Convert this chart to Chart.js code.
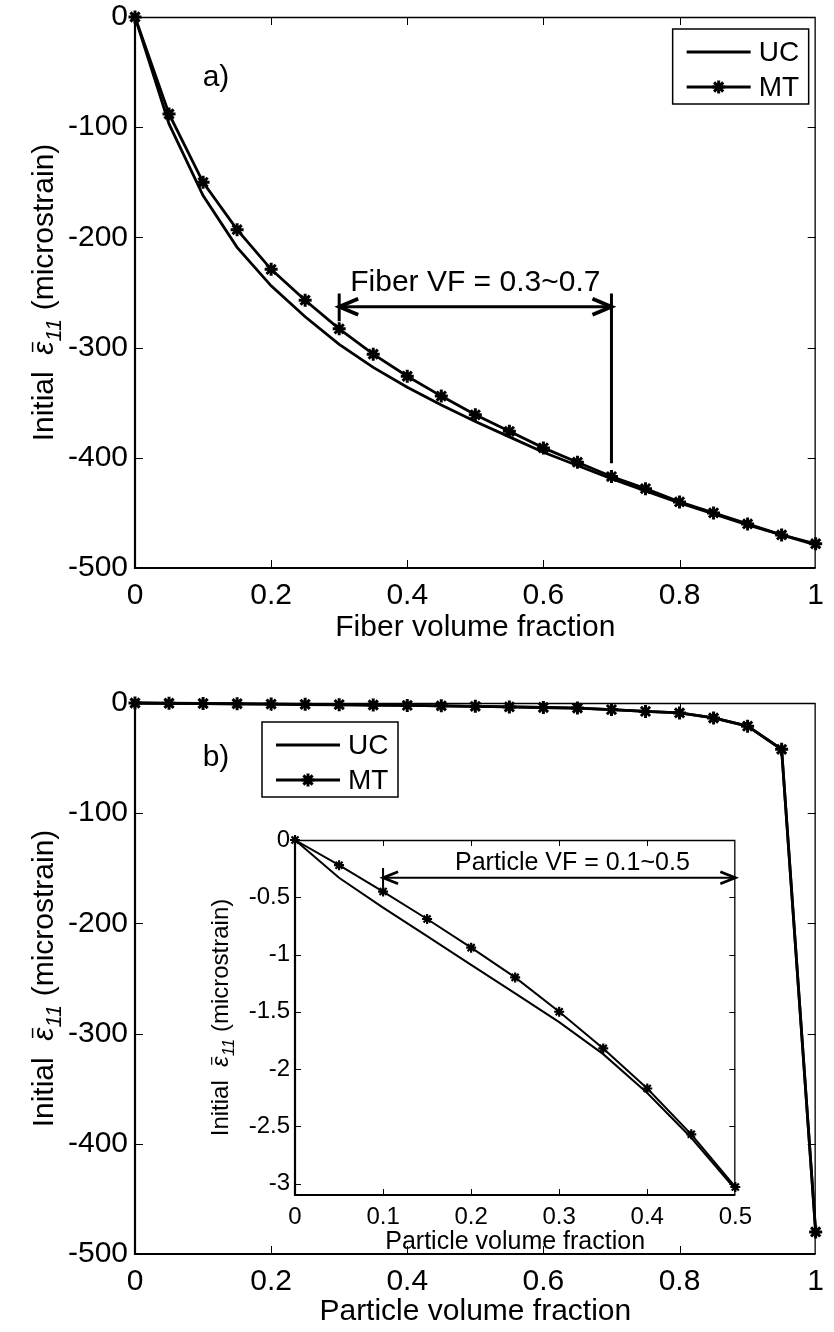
<!DOCTYPE html>
<html>
<head>
<meta charset="utf-8">
<script src="https://cdn.jsdelivr.net/npm/chart.js@4.4.0/dist/chart.umd.min.js"></script>
<style>
  html, body { margin: 0; padding: 0; background: #fff; }
  body { width: 834px; height: 1332px; position: relative; overflow: hidden; }
  .panel { position: absolute; }
</style>
</head>
<body>
<div class="panel" style="left:0;top:-20px;width:834px;height:680px"><canvas id="chartFiber"></canvas></div>
<div class="panel" style="left:0;top:660px;width:834px;height:672px"><canvas id="chartParticle"></canvas></div>
<div class="panel" style="left:180px;top:810px;width:580px;height:460px"><canvas id="chartInset"></canvas></div>
<script>
// values
var volumeFraction = [0, 0.05, 0.1, 0.15, 0.2, 0.25, 0.3, 0.35, 0.4, 0.45, 0.5,
                      0.55, 0.6, 0.65, 0.7, 0.75, 0.8, 0.85, 0.9, 0.95, 1];
var fiberUC = [0, -97, -162, -209, -244, -272, -297, -318, -336, -352, -367,
               -381, -395, -407, -419, -430, -441, -451, -461, -470, -479];
var fiberMT = [0, -88, -150, -193, -229, -257, -283, -306, -326, -344, -361,
               -376, -391, -404, -417, -428, -440, -450, -460, -470, -478];
var particleUC = [0, -0.33, -0.59, -0.84, -1.09, -1.34, -1.59, -1.87, -2.21, -2.6, -3.05,
                  -3.6, -4.1, -4.6, -6, -7.6, -9, -13.6, -21, -42, -480];
var particleMT = [0, -0.22, -0.45, -0.69, -0.94, -1.2, -1.5, -1.82, -2.17, -2.57, -3.03,
                  -3.6, -4.1, -4.6, -6, -7.6, -9, -13.6, -21, -42, -480];
var insetCount = 11; // inset shows volume fraction 0 .. 0.5

var seriesLabels = ['UC', 'MT'];
var mainXTicks = [0, 0.2, 0.4, 0.6, 0.8, 1];
var mainYTicks = [0, -100, -200, -300, -400, -500];
var insetXTicks = [0, 0.1, 0.2, 0.3, 0.4, 0.5];
var insetYTicks = [0, -0.5, -1, -1.5, -2, -2.5, -3];
var fiberRange = [0.3, 0.7];
var particleRange = [0.1, 0.5];

var FONT = '"Liberation Sans", Arial, Helvetica, sans-serif';

function toPoints(xs, ys) {
    return xs.map(function (x, i) { return { x: x, y: ys[i] }; });
}

function tickSetter(values) {
    return function (scale) {
        scale.ticks = values.map(function (v) { return { value: v }; });
    };
}

function makeDatasets(xs, uc, mt, lw, markR, markW) {
    return [
        {
            label: seriesLabels[0], data: toPoints(xs, uc),
            borderColor: '#000', borderWidth: lw, pointRadius: 0, fill: false, tension: 0, clip: false
        },
        {
            label: seriesLabels[1], data: toPoints(xs, mt),
            borderColor: '#000', borderWidth: lw, fill: false, tension: 0, clip: false,
            pointStyle: 'star', pointRadius: markR, pointBorderWidth: markW,
            pointBorderColor: '#000', pointBackgroundColor: '#000'
        }
    ];
}

function drawBox(chart, tickLen) {
    var a = chart.chartArea, ctx = chart.ctx;
    var xs = chart.scales.x, ys = chart.scales.y;
    ctx.save();
    ctx.strokeStyle = '#000';
    ctx.lineWidth = 1;
    ctx.beginPath();
    xs.ticks.forEach(function (t) {
        var px = Math.round(xs.getPixelForValue(t.value)) + 0.5;
        if (px - a.left < 3 || a.right - px < 3) return;
        ctx.moveTo(px, a.bottom); ctx.lineTo(px, a.bottom - tickLen);
        ctx.moveTo(px, a.top); ctx.lineTo(px, a.top + tickLen);
    });
    ys.ticks.forEach(function (t) {
        var py = Math.round(ys.getPixelForValue(t.value)) + 0.5;
        if (py - a.top < 3 || a.bottom - py < 3) return;
        ctx.moveTo(a.left, py); ctx.lineTo(a.left + tickLen, py);
        ctx.moveTo(a.right, py); ctx.lineTo(a.right - tickLen, py);
    });
    ctx.stroke();
    ctx.lineWidth = 1.3;
    ctx.beginPath();
    ctx.moveTo(a.left, a.top + 0.5); ctx.lineTo(a.right - 0.5, a.top + 0.5); ctx.lineTo(a.right - 0.5, a.bottom);
    ctx.stroke();
    ctx.lineWidth = 2.2;
    ctx.beginPath();
    ctx.moveTo(a.left, a.top); ctx.lineTo(a.left, a.bottom); ctx.lineTo(a.right, a.bottom);
    ctx.stroke();
    ctx.restore();
}

function drawYTitle(chart, baseX, size) {
    var ctx = chart.ctx, a = chart.chartArea;
    var parts = [
        { t: 'Initial  ', f: size + 'px ' + FONT, dy: 0 },
        { t: '\u03B5', f: 'italic ' + size + 'px ' + FONT, dy: 0, bar: true },
        { t: '11', f: 'italic ' + Math.round(size * 0.72) + 'px ' + FONT, dy: size * 0.27 },
        { t: ' (microstrain)', f: size + 'px ' + FONT, dy: 0 }
    ];
    ctx.save();
    var total = 0;
    parts.forEach(function (p) { ctx.font = p.f; p.w = ctx.measureText(p.t).width; total += p.w; });
    ctx.translate(baseX, (a.top + a.bottom) / 2);
    ctx.rotate(-Math.PI / 2);
    ctx.fillStyle = '#000';
    ctx.strokeStyle = '#000';
    ctx.textBaseline = 'alphabetic';
    ctx.textAlign = 'left';
    var x = -total / 2;
    parts.forEach(function (p) {
        ctx.font = p.f;
        ctx.fillText(p.t, x, p.dy);
        if (p.bar) {
            ctx.lineWidth = Math.max(1, size / 20);
            ctx.beginPath();
            ctx.moveTo(x + p.w * 0.2, -size * 0.68);
            ctx.lineTo(x + p.w * 0.95, -size * 0.68);
            ctx.stroke();
        }
        x += p.w;
    });
    ctx.restore();
}

function drawLegend(chart, left, top, o) {
    var ctx = chart.ctx;
    ctx.save();
    ctx.fillStyle = '#fff';
    ctx.fillRect(left, top, o.w, o.h);
    ctx.strokeStyle = '#000';
    ctx.lineWidth = 1.5;
    ctx.strokeRect(left, top, o.w, o.h);
    chart.data.datasets.forEach(function (ds, i) {
        var y = top + o.row0 + i * o.rowGap;
        ctx.strokeStyle = '#000';
        ctx.lineWidth = ds.borderWidth;
        ctx.beginPath();
        ctx.moveTo(left + 14, y); ctx.lineTo(left + 78, y);
        ctx.stroke();
        if (ds.pointRadius > 0) {
            ctx.lineWidth = ds.pointBorderWidth;
            ctx.fillStyle = '#000';
            Chart.helpers.drawPoint(ctx, { pointStyle: ds.pointStyle, radius: ds.pointRadius, borderWidth: ds.pointBorderWidth, rotation: 0 }, left + 46, y);
        }
        ctx.fillStyle = '#000';
        ctx.font = o.size + 'px ' + FONT;
        ctx.textBaseline = 'middle';
        ctx.textAlign = 'left';
        ctx.fillText(ds.label, left + 86, y + 1);
    });
    ctx.restore();
}

function arrowHead(ctx, x, y, dir, len, half) {
    ctx.beginPath();
    ctx.moveTo(x - dir * len, y - half);
    ctx.lineTo(x, y);
    ctx.lineTo(x - dir * len, y + half);
    ctx.stroke();
}

function drawRange(chart, range, o) {
    var ctx = chart.ctx, xs = chart.scales.x, ys = chart.scales.y;
    var x0 = xs.getPixelForValue(range[0]), x1 = xs.getPixelForValue(range[1]);
    var y = ys.getPixelForValue(o.arrowY);
    ctx.save();
    ctx.strokeStyle = '#000';
    ctx.lineWidth = o.lw;
    ctx.beginPath();
    ctx.moveTo(x0, y); ctx.lineTo(x1, y);
    ctx.moveTo(x0, ys.getPixelForValue(o.barTop)); ctx.lineTo(x0, ys.getPixelForValue(o.leftBottom));
    if (o.rightBottom !== null) {
        ctx.moveTo(x1, ys.getPixelForValue(o.barTop)); ctx.lineTo(x1, ys.getPixelForValue(o.rightBottom));
    }
    ctx.stroke();
    ctx.lineWidth = o.lw + 0.8;
    arrowHead(ctx, x0, y, -1, o.headLen, o.headHalf);
    arrowHead(ctx, x1, y, 1, o.headLen, o.headHalf);
    ctx.fillStyle = '#000';
    ctx.font = o.size + 'px ' + FONT;
    ctx.textAlign = 'center';
    ctx.textBaseline = 'middle';
    ctx.fillText(o.text, xs.getPixelForValue(o.textX), ys.getPixelForValue(o.textY));
    ctx.restore();
}

function drawLetter(chart, text, dx, dy) {
    var ctx = chart.ctx, a = chart.chartArea;
    ctx.save();
    ctx.fillStyle = '#000';
    ctx.font = '30px ' + FONT;
    ctx.textAlign = 'center';
    ctx.textBaseline = 'middle';
    ctx.fillText(text, a.left + dx, a.top + dy);
    ctx.restore();
}

function mainScales(xTitle, xHeight, titlePad) {
    return {
        x: {
            type: 'linear', min: 0, max: 1,
            afterBuildTicks: tickSetter(mainXTicks),
            afterFit: function (s) { s.height = xHeight; },
            grid: { display: false, drawTicks: false },
            border: { display: false },
            ticks: {
                color: '#000', font: { family: FONT, size: 30 }, padding: 10,
                maxRotation: 0, autoSkip: false,
                callback: function (v) { return String(v); }
            },
            title: {
                display: true, text: xTitle, color: '#000',
                font: { family: FONT, size: 30 }, padding: { top: 0, bottom: titlePad }
            }
        },
        y: {
            type: 'linear', min: -500, max: 0,
            afterBuildTicks: tickSetter(mainYTicks),
            afterFit: function (s) { s.width = 135; },
            grid: { display: false, drawTicks: false },
            border: { display: false },
            ticks: {
                color: '#000', font: { family: FONT, size: 30 }, padding: 7,
                autoSkip: false,
                callback: function (v) { return String(v); }
            }
        }
    };
}

var common = {
    responsive: true,
    maintainAspectRatio: false,
    animation: false,
    events: [],
    plugins: { legend: { display: false }, tooltip: { enabled: false } }
};

new Chart(document.getElementById('chartFiber'), {
    type: 'line',
    data: { datasets: makeDatasets(volumeFraction, fiberUC, fiberMT, 2.8, 6.5, 3) },
    options: Object.assign({}, common, {
        layout: { padding: { top: 37, right: 9, left: 0, bottom: 0 } },
        scales: mainScales('Fiber volume fraction', 92, 14)
    }),
    plugins: [{
        id: 'fiberDecor',
        beforeDatasetsDraw: function (chart) { drawBox(chart, 8); },
        afterDatasetsDraw: function (chart) {
            var a = chart.chartArea;
            drawYTitle(chart, 53, 30);
            drawLegend(chart, a.right - 7 - 136, a.top + 12, { w: 136, h: 75, row0: 23, rowGap: 35, size: 28 });
            drawLetter(chart, 'a)', 81, 61);
            drawRange(chart, fiberRange, {
                arrowY: -263, barTop: -251, leftBottom: -276, rightBottom: -405,
                lw: 3, headLen: 19, headHalf: 8, size: 30,
                text: 'Fiber VF = 0.3~0.7', textX: 0.5, textY: -241
            });
        }
    }]
});

new Chart(document.getElementById('chartParticle'), {
    type: 'line',
    data: { datasets: makeDatasets(volumeFraction, particleUC, particleMT, 2.8, 6.5, 3) },
    options: Object.assign({}, common, {
        layout: { padding: { top: 43, right: 9, left: 0, bottom: 0 } },
        scales: mainScales('Particle volume fraction', 78, 2)
    }),
    plugins: [{
        id: 'particleDecor',
        beforeDatasetsDraw: function (chart) { drawBox(chart, 8); },
        afterDatasetsDraw: function (chart) {
            var a = chart.chartArea;
            drawYTitle(chart, 53, 30);
            drawLegend(chart, a.left + 127, a.top + 19, { w: 136, h: 75, row0: 23, rowGap: 35, size: 28 });
            drawLetter(chart, 'b)', 81, 55);
        }
    }]
});

new Chart(document.getElementById('chartInset'), {
    type: 'line',
    data: {
        datasets: makeDatasets(volumeFraction.slice(0, insetCount),
            particleUC.slice(0, insetCount), particleMT.slice(0, insetCount), 2, 5, 2.2)
    },
    options: Object.assign({}, common, {
        layout: { padding: { top: 30, right: 22, left: 0, bottom: 0 } },
        scales: {
            x: {
                type: 'linear', min: 0, max: 0.5,
                afterBuildTicks: tickSetter(insetXTicks),
                afterFit: function (s) { s.height = 75; },
                grid: { display: false, drawTicks: false },
                border: { display: false },
                ticks: {
                    color: '#000', font: { family: FONT, size: 24 }, padding: 8,
                    maxRotation: 0, autoSkip: false,
                    callback: function (v) { return String(v); }
                },
                title: {
                    display: true, text: 'Particle volume fraction', color: '#000',
                    font: { family: FONT, size: 25 }, padding: { top: 0, bottom: 13 }
                }
            },
            y: {
                type: 'linear', min: -3.1, max: 0,
                afterBuildTicks: tickSetter(insetYTicks),
                afterFit: function (s) { s.width = 115; },
                grid: { display: false, drawTicks: false },
                border: { display: false },
                ticks: {
                    color: '#000', font: { family: FONT, size: 24 }, padding: 5,
                    autoSkip: false,
                    callback: function (v) { return String(v); }
                }
            }
        }
    }),
    plugins: [{
        id: 'insetDecor',
        beforeDraw: function (chart) {
            var a = chart.chartArea;
            chart.ctx.save();
            chart.ctx.fillStyle = '#fff';
            chart.ctx.fillRect(a.left, a.top, a.right - a.left, a.bottom - a.top);
            chart.ctx.restore();
        },
        beforeDatasetsDraw: function (chart) { drawBox(chart, 6); },
        afterDatasetsDraw: function (chart) {
            drawYTitle(chart, 48, 24);
            drawRange(chart, particleRange, {
                arrowY: -0.33, barTop: -0.245, leftBottom: -0.44, rightBottom: null,
                lw: 2, headLen: 15, headHalf: 6, size: 25,
                text: 'Particle VF = 0.1~0.5', textX: 0.315, textY: -0.2
            });
        }
    }]
});
</script>
</body>
</html>
